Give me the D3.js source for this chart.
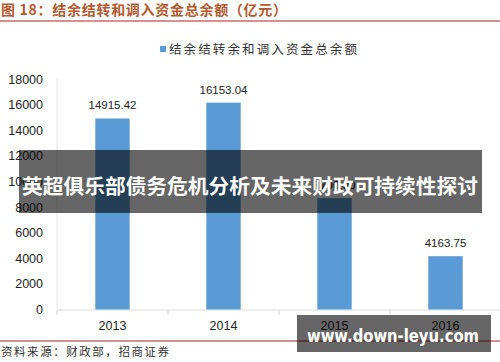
<!DOCTYPE html>
<html>
<head>
<meta charset="utf-8">
<script src="https://cdn.jsdelivr.net/npm/d3@7"></script>
<style>
  body { margin: 0; background: #fff; }
  svg { display: block; }
</style>
</head>
<body>
<svg width="500" height="362"></svg>
<script>
const years = ['2013', '2014', '2015', '2016'];
const balances = [14915.42, 16153.04, 8700, 4163.75];
const balanceLabels = ['14915.42', '16153.04', '8700.00', '4163.75'];
const yTicks = [0, 2000, 4000, 6000, 8000, 10000, 12000, 14000, 16000, 18000];

const svg = d3.select('svg');
const cjk = '"Noto Sans CJK SC", sans-serif';
const latin = '"Liberation Sans", Arial, sans-serif';

// header
svg.append('text')
   .attr('x', 1).attr('y', 15)
   .attr('font-family', cjk).attr('font-size', 14).attr('font-weight', 'bold')
   .attr('fill', '#b4582e')
   .attr('textLength', 286).attr('lengthAdjust', 'spacing')
   .text('图 18：结余结转和调入资金总余额（亿元）');
svg.append('line')
   .attr('x1', 0).attr('x2', 500).attr('y1', 21).attr('y2', 21)
   .attr('stroke', '#b42020').attr('stroke-width', 1.2);

// legend
svg.append('rect')
   .attr('x', 160).attr('y', 46).attr('width', 6).attr('height', 6)
   .attr('fill', '#5b9bd5');
svg.append('text')
   .attr('x', 169).attr('y', 54)
   .attr('font-family', cjk).attr('font-size', 12.5).attr('fill', '#333')
   .attr('textLength', 188).attr('lengthAdjust', 'spacing')
   .text('结余结转余和调入资金总余额');

const x = d3.scaleBand().domain(years).range([57, 501])
            .paddingInner(0.69).paddingOuter(0.345);
const y = d3.scaleLinear().domain([0, 18000]).range([309.5, 79]);

// y axis labels
svg.append('g').selectAll('text').data(yTicks).enter().append('text')
   .attr('x', 43).attr('y', d => y(d) + 4.5)
   .attr('text-anchor', 'end')
   .attr('font-family', latin).attr('font-size', 12.5).attr('fill', '#222')
   .text(d => d);

// axes lines
svg.append('line')
   .attr('x1', 57).attr('x2', 57).attr('y1', 79).attr('y2', 310)
   .attr('stroke', '#e6e6e6');
svg.append('line')
   .attr('x1', 57).attr('x2', 501).attr('y1', 310).attr('y2', 310)
   .attr('stroke', '#d9d9d9');
const bounds = [57].concat(years.map(d => x(d) - x.step() * 0.345 + x.step()));
svg.append('g').selectAll('line').data(bounds).enter().append('line')
   .attr('x1', d => d).attr('x2', d => d).attr('y1', 310).attr('y2', 315)
   .attr('stroke', '#d9d9d9');

// bars
svg.append('g').selectAll('rect').data(balances).enter().append('rect')
   .attr('x', (d, i) => x(years[i]))
   .attr('y', d => y(d))
   .attr('width', x.bandwidth())
   .attr('height', d => y(0) - y(d))
   .attr('fill', '#5b9bd5');

svg.append('g').selectAll('text').data(balances).enter().append('text')
   .attr('x', (d, i) => x(years[i]) + x.bandwidth() / 2)
   .attr('y', d => y(d) - 9)
   .attr('text-anchor', 'middle')
   .attr('font-family', latin).attr('font-size', 11.5).attr('fill', '#222')
   .text((d, i) => balanceLabels[i]);

// x labels
svg.append('g').selectAll('text').data(years).enter().append('text')
   .attr('x', d => x(d) + x.bandwidth() / 2)
   .attr('y', 330)
   .attr('text-anchor', 'middle')
   .attr('font-family', latin).attr('font-size', 12.5).attr('fill', '#222')
   .text(d => d);

// footer
svg.append('line')
   .attr('x1', 0).attr('x2', 500).attr('y1', 341).attr('y2', 341)
   .attr('stroke', '#b42020').attr('stroke-width', 1.2);
svg.append('text')
   .attr('x', 1).attr('y', 356)
   .attr('font-family', cjk).attr('font-size', 11.5).attr('fill', '#333')
   .attr('textLength', 168).attr('lengthAdjust', 'spacing')
   .text('资料来源：财政部，招商证券');

// overlays
svg.append('rect')
   .attr('x', 19).attr('y', 150).attr('width', 463).attr('height', 63)
   .attr('fill', 'rgba(0,0,0,0.6)');
svg.append('text')
   .attr('x', 250).attr('y', 194)
   .attr('text-anchor', 'middle')
   .attr('font-family', cjk).attr('font-size', 20.5).attr('font-weight', 'bold')
   .attr('fill', '#fff')
   .attr('textLength', 456).attr('lengthAdjust', 'spacingAndGlyphs')
   .text('英超俱乐部债务危机分析及未来财政可持续性探讨');

svg.append('rect')
   .attr('x', 297).attr('y', 315).attr('width', 194).attr('height', 37)
   .attr('fill', 'rgba(0,0,0,0.6)');
svg.append('text')
   .attr('x', 393).attr('y', 342)
   .attr('text-anchor', 'middle')
   .attr('font-family', '"DejaVu Sans", sans-serif').attr('font-size', 17).attr('font-weight', 'bold')
   .attr('fill', '#fff')
   .attr('textLength', 172).attr('lengthAdjust', 'spacingAndGlyphs')
   .text('www.down-leyu.com');
</script>
</body>
</html>
